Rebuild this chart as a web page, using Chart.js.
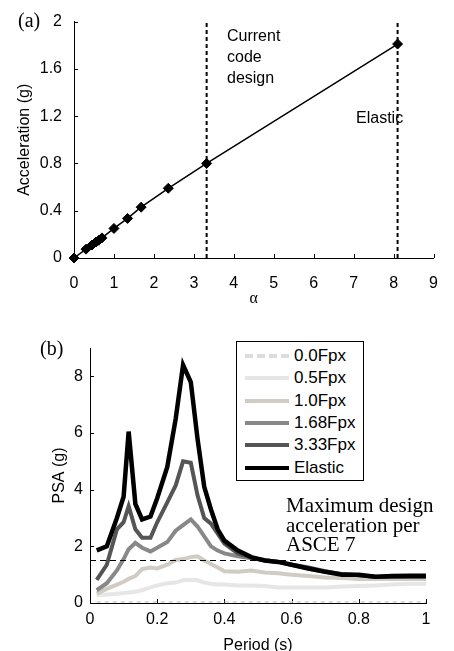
<!DOCTYPE html>
<html>
<head>
<meta charset="utf-8">
<script src="https://cdn.jsdelivr.net/npm/chart.js@4.4.0/dist/chart.umd.min.js"></script>
<style>
  body { margin: 0; background: #fff; }
  #wrap { position: relative; width: 454px; height: 651px; overflow: hidden; font-family: "Liberation Sans", Arial, sans-serif; color: #000; }
  canvas { position: absolute; left: 0; }
  .note { position: absolute; white-space: nowrap; }
  .sans { font-family: "Liberation Sans", Arial, sans-serif; font-size: 16px; line-height: 21px; }
  .serif { font-family: "Liberation Serif", "Times New Roman", serif; }
  #legend { position: absolute; left: 236px; top: 341px; width: 128px; height: 140px; box-sizing: border-box; border: 1px solid #000; background: #fff; padding-top: 3px; }
  .row { height: 22.3px; display: flex; align-items: center; font-size: 17px; }
  .swatch { width: 44px; margin-left: 8px; margin-right: 5px; height: 0; }
</style>
</head>
<body>
<div id="wrap">
  <canvas id="chartA" width="454" height="310" style="top:0"></canvas>
  <canvas id="chartB" width="454" height="341" style="top:310px"></canvas>

  <div class="note serif" style="left:18px; top:10px; font-size:20px; line-height:20px;">(a)</div>
  <div class="note sans" style="left:227px; top:25px;">Current<br>code<br>design</div>
  <div class="note sans" style="left:356px; top:107px;">Elastic</div>

  <div class="note serif" style="left:40px; top:338px; font-size:20px; line-height:20px;">(b)</div>
  <div class="note serif" style="left:286px; top:496px; font-size:21px; line-height:19.5px;">Maximum design<br>acceleration per<br>ASCE 7</div>
  <div id="legend"></div>
</div>

<script>
// ---- chart (a): acceleration vs alpha ----
const alphaValues = [0, 0.3, 0.45, 0.55, 0.62, 0.7, 1.0, 1.34, 1.68, 2.36, 3.32, 8.1];
const accelValues = [0, 0.075, 0.11, 0.135, 0.15, 0.17, 0.25, 0.335, 0.43, 0.59, 0.80, 1.81];
const markerAlphas = [3.32, 8.1];   // current code design, elastic
const xTicksA = [0, 1, 2, 3, 4, 5, 6, 7, 8, 9];
const yTicksA = [0, 0.4, 0.8, 1.2, 1.6, 2];

// ---- chart (b): PSA spectra ----
const periods = [0.02, 0.05, 0.08, 0.10, 0.115, 0.135, 0.155, 0.18, 0.20, 0.23, 0.255, 0.277, 0.30, 0.32, 0.34, 0.36, 0.38, 0.40, 0.44, 0.48, 0.52, 0.56, 0.60, 0.65, 0.70, 0.75, 0.80, 0.85, 0.90, 0.95, 1.00];
const psaElastic = [1.86, 2.0, 3.0, 3.75, 6.05, 3.5, 2.95, 3.05, 3.7, 4.8, 6.5, 8.4, 7.8, 5.8, 4.1, 3.3, 2.6, 2.2, 1.85, 1.62, 1.5, 1.45, 1.35, 1.22, 1.1, 1.0, 1.0, 0.93, 0.95, 0.96, 0.96];
const psa333 = [0.82, 1.35, 2.6, 2.85, 3.42, 2.6, 2.3, 2.3, 2.85, 3.55, 4.15, 5.0, 4.95, 3.8, 3.0, 2.8, 2.45, 2.1, 1.75, 1.6, 1.5, 1.45, 1.35, 1.25, 1.12, 1.02, 0.98, 0.92, 0.92, 0.92, 0.92];
const psa168 = [0.45, 0.7, 1.15, 1.55, 1.9, 2.12, 1.95, 1.82, 1.95, 2.15, 2.55, 2.75, 2.95, 2.7, 2.35, 2.0, 1.85, 1.75, 1.65, 1.58, 1.52, 1.45, 1.35, 1.22, 1.1, 1.02, 0.98, 0.93, 0.93, 0.93, 0.93];
const psa10 = [0.33, 0.5, 0.65, 0.75, 0.85, 0.95, 1.2, 1.25, 1.22, 1.35, 1.52, 1.55, 1.62, 1.65, 1.5, 1.38, 1.25, 1.12, 1.1, 1.15, 1.08, 1.05, 1.0, 0.95, 0.9, 0.88, 0.85, 0.85, 0.85, 0.85, 0.85];
const psa05 = [0.28, 0.3, 0.33, 0.35, 0.37, 0.4, 0.45, 0.55, 0.62, 0.7, 0.72, 0.8, 0.82, 0.8, 0.72, 0.68, 0.65, 0.65, 0.62, 0.62, 0.6, 0.55, 0.55, 0.55, 0.55, 0.58, 0.6, 0.62, 0.65, 0.68, 0.68];
const psa00 = [0, 0, 0, 0, 0, 0, 0, 0, 0, 0, 0, 0, 0, 0, 0, 0, 0, 0, 0, 0, 0, 0, 0, 0, 0, 0, 0, 0, 0, 0, 0];
const seriesNames = ['0.0Fpx', '0.5Fpx', '1.0Fpx', '1.68Fpx', '3.33Fpx', 'Elastic'];
const designLimit = 1.5;   // ASCE 7 max design acceleration
const xTicksB = [0, 0.2, 0.4, 0.6, 0.8, 1];
const yTicksB = [0, 2, 4, 6, 8];

const SANS = '"Liberation Sans", Arial, sans-serif';
const seriesStyle = [
  { color: '#dcdcdc', width: 4, dash: [4, 4] },
  { color: '#e6e6e6', width: 4, dash: [] },
  { color: '#d0ccc4', width: 4, dash: [] },
  { color: '#888888', width: 4, dash: [] },
  { color: '#555555', width: 4, dash: [] },
  { color: '#000000', width: 4.5, dash: [] }
];

// ticks pointing into the plot
const innerTicks = {
  id: 'innerTicks',
  beforeDatasetsDraw(chart) {
    const { ctx, chartArea } = chart;
    const sx = chart.scales.x, sy = chart.scales.y;
    ctx.save();
    ctx.strokeStyle = '#000';
    ctx.lineWidth = 1;
    ctx.beginPath();
    sx.ticks.forEach(t => {
      const px = Math.round(sx.getPixelForValue(t.value)) + 0.5;
      ctx.moveTo(px, chartArea.bottom);
      ctx.lineTo(px, chartArea.bottom - 4);
    });
    sy.ticks.forEach(t => {
      const py = Math.round(sy.getPixelForValue(t.value)) + 0.5;
      ctx.moveTo(chartArea.left, py);
      ctx.lineTo(chartArea.left + 4, py);
    });
    ctx.stroke();
    ctx.restore();
  }
};

function axis(ticksArr, opts) {
  return {
    type: 'linear',
    min: ticksArr[0],
    max: opts.max,
    afterBuildTicks: s => { s.ticks = ticksArr.map(v => ({ value: v })); },
    afterFit: opts.fit,
    ticks: { color: '#000', font: { family: SANS, size: 16 }, padding: opts.pad, maxRotation: 0, autoSkip: false,
      callback: v => String(v) },
    grid: { drawOnChartArea: false, drawTicks: false },
    border: { color: '#000', width: 1 },
    title: { display: true, text: opts.title, color: '#000', font: opts.titleFont, padding: opts.titlePad }
  };
}

function totalChartA(ctx) {
  const vLines = markerAlphas.map(a => ({
    data: [{ x: a, y: yTicksA[0] }, { x: a, y: yTicksA[yTicksA.length - 1] }],
    borderColor: '#000', borderWidth: 2, borderDash: [4, 3], pointRadius: 0
  }));
  return new Chart(ctx, {
    type: 'line',
    data: {
      datasets: [
        {
          data: alphaValues.map((a, i) => ({ x: a, y: accelValues[i] })),
          borderColor: '#000', borderWidth: 1.5, backgroundColor: '#000',
          pointStyle: 'rectRot', pointRadius: 5, pointBorderWidth: 1, tension: 0, clip: false
        },
        ...vLines
      ]
    },
    options: {
      responsive: false, animation: false, devicePixelRatio: 1,
      layout: { padding: { top: 15, right: 4, left: 0, bottom: 0 } },
      plugins: { legend: { display: false }, tooltip: { enabled: false } },
      scales: {
        x: axis(xTicksA, { max: 9, pad: 16, fit: s => { s.height = 52; }, title: 'α',
          titleFont: { family: '"Liberation Serif", serif', size: 16 }, titlePad: { top: 0, bottom: 2 } }),
        y: axis(yTicksA, { max: 2, pad: 12, fit: s => { s.width = 74; }, title: 'Acceleration (g)',
          titleFont: { family: SANS, size: 16 }, titlePad: { top: 15, bottom: 0 } })
      }
    },
    plugins: [innerTicks]
  });
}

function totalChartB(ctx) {
  const series = [psa00, psa05, psa10, psa168, psa333, psaElastic];
  const lines = series.map((vals, i) => ({
    label: seriesNames[i],
    data: periods.map((p, j) => ({ x: p, y: vals[j] })),
    borderColor: seriesStyle[i].color, borderWidth: seriesStyle[i].width,
    borderDash: seriesStyle[i].dash, pointRadius: 0, tension: 0
  })).reverse();
  return new Chart(ctx, {
    type: 'line',
    data: {
      datasets: [
        {
          label: 'limit',
          data: [{ x: xTicksB[0], y: designLimit }, { x: xTicksB[xTicksB.length - 1], y: designLimit }],
          borderColor: '#000', borderWidth: 1.2, borderDash: [6, 4], pointRadius: 0
        },
        ...lines
      ]
    },
    options: {
      responsive: false, animation: false, devicePixelRatio: 1,
      layout: { padding: { top: 38, right: 28, left: 0, bottom: 0 } },
      plugins: { legend: { display: false }, tooltip: { enabled: false } },
      scales: {
        x: axis(xTicksB, { max: 1, pad: 6.5, fit: s => { s.height = 48; }, title: 'Period (s)',
          titleFont: { family: SANS, size: 16 }, titlePad: { top: 0, bottom: -4 } }),
        y: axis(yTicksB, { max: 9, pad: 7, fit: s => { s.width = 90; }, title: 'PSA (g)',
          titleFont: { family: SANS, size: 16 }, titlePad: { top: 50, bottom: 0 } })
      }
    },
    plugins: [innerTicks]
  });
}

function renderLegend() {
  const box = document.getElementById('legend');
  seriesNames.forEach((name, i) => {
    const st = seriesStyle[i];
    const row = document.createElement('div');
    row.className = 'row';
    const sw = document.createElement('div');
    sw.className = 'swatch';
    sw.style.borderTop = st.width + 'px ' + (st.dash.length ? 'dashed ' : 'solid ') + st.color;
    const txt = document.createElement('span');
    txt.textContent = name;
    row.appendChild(sw);
    row.appendChild(txt);
    box.appendChild(row);
  });
}

function renderCharts() {
  totalChartA(document.getElementById('chartA').getContext('2d'));
  totalChartB(document.getElementById('chartB').getContext('2d'));
  renderLegend();
}
renderCharts();
</script>
</body>
</html>
